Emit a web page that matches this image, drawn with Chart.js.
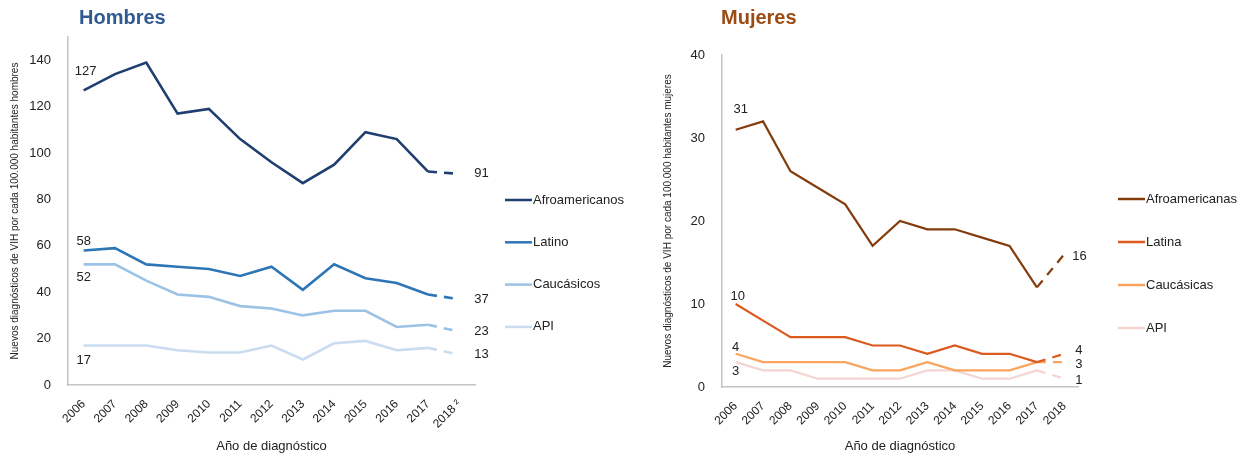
<!DOCTYPE html>
<html>
<head>
<meta charset="utf-8">
<script src="https://cdn.jsdelivr.net/npm/chart.js@4.4.1/dist/chart.umd.min.js"></script>
<style>
html, body { margin: 0; padding: 0; background: #fff; }
.wrap { position: relative; width: 1250px; height: 457px; }
.box { position: absolute; top: 0; width: 625px; height: 457px; }
</style>
</head>
<body>
<div class="wrap">
  <div class="box" style="left:0"><canvas id="hombres" width="625" height="457"></canvas></div>
  <div class="box" style="left:625px"><canvas id="mujeres" width="625" height="457"></canvas></div>
</div>
<script>
// data
const years = ['2006','2007','2008','2009','2010','2011','2012','2013','2014','2015','2016','2017','2018'];

const hombresNames = ['Afroamericanos', 'Latino', 'Caucásicos', 'API'];
const hombresAfro = [127, 134, 139, 117, 119, 106, 96, 87, 95, 109, 106, 92, 91];
const hombresLatino = [58, 59, 52, 51, 50, 47, 51, 41, 52, 46, 44, 39, 37];
const hombresCauc = [52, 52, 45, 39, 38, 34, 33, 30, 32, 32, 25, 26, 23];
const hombresApi = [17, 17, 17, 15, 14, 14, 17, 11, 18, 19, 15, 16, 13];
const hombresTicks = [0, 20, 40, 60, 80, 100, 120, 140];

const mujeresNames = ['Afroamericanas', 'Latina', 'Caucásicas', 'API'];
const mujeresAfro = [31, 32, 26, 24, 22, 17, 20, 19, 19, 18, 17, 12, 16];
const mujeresLatina = [10, 8, 6, 6, 6, 5, 5, 4, 5, 4, 4, 3, 4];
const mujeresCauc = [4, 3, 3, 3, 3, 2, 2, 3, 2, 2, 2, 3, 3];
const mujeresApi = [3, 2, 2, 1, 1, 1, 1, 2, 2, 1, 1, 2, 1];
const mujeresTicks = [0, 10, 20, 30, 40];

const FONT = '"Liberation Sans", Arial, sans-serif';
Chart.defaults.font.family = FONT;
Chart.defaults.color = '#222';

// title, value labels and legend
const decor = {
    id: 'decor',
    afterDraw(chart, args, opts) {
        const ctx = chart.ctx;
        const area = chart.chartArea;
        ctx.save();
        ctx.textBaseline = 'middle';

        ctx.font = 'bold 20px ' + FONT;
        ctx.fillStyle = opts.titleColor;
        ctx.textAlign = 'left';
        ctx.fillText(opts.title, opts.titleX, 18);

        ctx.font = '13px ' + FONT;
        ctx.fillStyle = '#222';
        opts.labels.forEach(l => {
            const pt = chart.getDatasetMeta(l.ds).data[l.i];
            ctx.textAlign = l.align || 'center';
            ctx.fillText(String(chart.data.datasets[l.ds].data[l.i]), pt.x + l.dx, pt.y + l.dy);
        });

        chart.data.datasets.forEach((ds, k) => {
            const x = area.right + opts.legendGap;
            const y = opts.legendTop + k * opts.legendStep;
            ctx.strokeStyle = ds.borderColor;
            ctx.lineWidth = 2.5;
            ctx.beginPath();
            ctx.moveTo(x, y);
            ctx.lineTo(x + 27, y);
            ctx.stroke();
            ctx.textAlign = 'left';
            ctx.fillStyle = '#222';
            ctx.fillText(ds.label, x + 28, y);
        });
        ctx.restore();
    }
};

function series(name, values, color, width) {
    return {
        label: name,
        data: values,
        borderColor: color,
        backgroundColor: color,
        borderWidth: width,
        pointRadius: 0,
        tension: 0,
        segment: {
            borderDash: c => c.p1DataIndex === years.length - 1 ? [9, 7] : undefined
        }
    };
}

function makeChart(id, datasets, yMax, tickList, yTitle, pad, yWidth, yTitlePad, lastTick, decorOpts) {
    return new Chart(document.getElementById(id), {
        type: 'line',
        data: { labels: years, datasets: datasets },
        options: {
            responsive: false,
            animation: false,
            devicePixelRatio: 1,
            layout: { padding: pad },
            plugins: {
                legend: { display: false },
                tooltip: { enabled: false },
                decor: decorOpts
            },
            scales: {
                x: {
                    offset: true,
                    grid: { display: false },
                    border: { color: '#c4c4c4', width: 1.5 },
                    ticks: {
                        minRotation: 45, maxRotation: 45, padding: 4, font: { size: 12 }, color: '#222',
                        callback: (v, i) => i === years.length - 1 ? lastTick : years[i]
                    },
                    title: { display: true, text: 'Año de diagnóstico', font: { size: 13 }, color: '#222', padding: { top: 0, bottom: 3 } },
                    afterFit: s => { s.height = 457 - pad.top - yWidth.plotH; }
                },
                y: {
                    min: 0,
                    max: yMax,
                    grid: { display: false },
                    border: { color: '#c4c4c4', width: 1.5 },
                    afterBuildTicks: s => { s.ticks = tickList.map(v => ({ value: v })); },
                    ticks: { padding: 9, font: { size: 13 }, color: '#222' },
                    title: { display: true, text: yTitle, font: { size: 10 }, color: '#222', padding: { top: yTitlePad, bottom: 0 } },
                    afterFit: s => { s.width = yWidth.w; }
                }
            }
        },
        plugins: [decor]
    });
}

makeChart('hombres', [
    series(hombresNames[0], hombresAfro, '#203f70', 2.6),
    series(hombresNames[1], hombresLatino, '#2e75b6', 2.6),
    series(hombresNames[2], hombresCauc, '#9cc3e5', 2.6),
    series(hombresNames[3], hombresApi, '#cadcf0', 2.6)
], 150, hombresTicks,
'Nuevos diagnósticos de VIH por cada 100.000 habitantes hombres',
{ top: 37, right: 150, left: 0, bottom: 0 }, { w: 68, plotH: 348 }, 9, '2018 ²',
{
    title: 'Hombres', titleColor: '#2f5a92', titleX: 79,
    legendGap: 30, legendTop: 200, legendStep: 42.3,
    labels: [
        { ds: 0, i: 0, dx: 2, dy: -19 },
        { ds: 1, i: 0, dx: 0, dy: -9 },
        { ds: 2, i: 0, dx: 0, dy: 13 },
        { ds: 3, i: 0, dx: 0, dy: 15 },
        { ds: 0, i: 12, dx: 15, dy: 0, align: 'left' },
        { ds: 1, i: 12, dx: 15, dy: 0, align: 'left' },
        { ds: 2, i: 12, dx: 15, dy: 0, align: 'left' },
        { ds: 3, i: 12, dx: 15, dy: 0, align: 'left' }
    ]
});

makeChart('mujeres', [
    series(mujeresNames[0], mujeresAfro, '#843c0c', 2.2),
    series(mujeresNames[1], mujeresLatina, '#dc5a1e', 2.2),
    series(mujeresNames[2], mujeresCauc, '#f9a560', 2.2),
    series(mujeresNames[3], mujeresApi, '#f4d5d2', 2.2)
], 40, mujeresTicks,
'Nuevos diagnósticos de VIH por cada 100.000 habitantes mujeres',
{ top: 55, right: 172, left: 0, bottom: 0 }, { w: 97, plotH: 332 }, 37, '2018',
{
    title: 'Mujeres', titleColor: '#9c4b12', titleX: 96,
    legendGap: 40, legendTop: 199, legendStep: 43,
    labels: [
        { ds: 0, i: 0, dx: 5, dy: -20 },
        { ds: 1, i: 0, dx: 2, dy: -8 },
        { ds: 2, i: 0, dx: 0, dy: -6 },
        { ds: 3, i: 0, dx: 0, dy: 9 },
        { ds: 0, i: 12, dx: 8, dy: 2, align: 'left' },
        { ds: 1, i: 12, dx: 11, dy: -3, align: 'left' },
        { ds: 2, i: 12, dx: 11, dy: 2, align: 'left' },
        { ds: 3, i: 12, dx: 11, dy: 2, align: 'left' }
    ]
});
</script>
</body>
</html>
